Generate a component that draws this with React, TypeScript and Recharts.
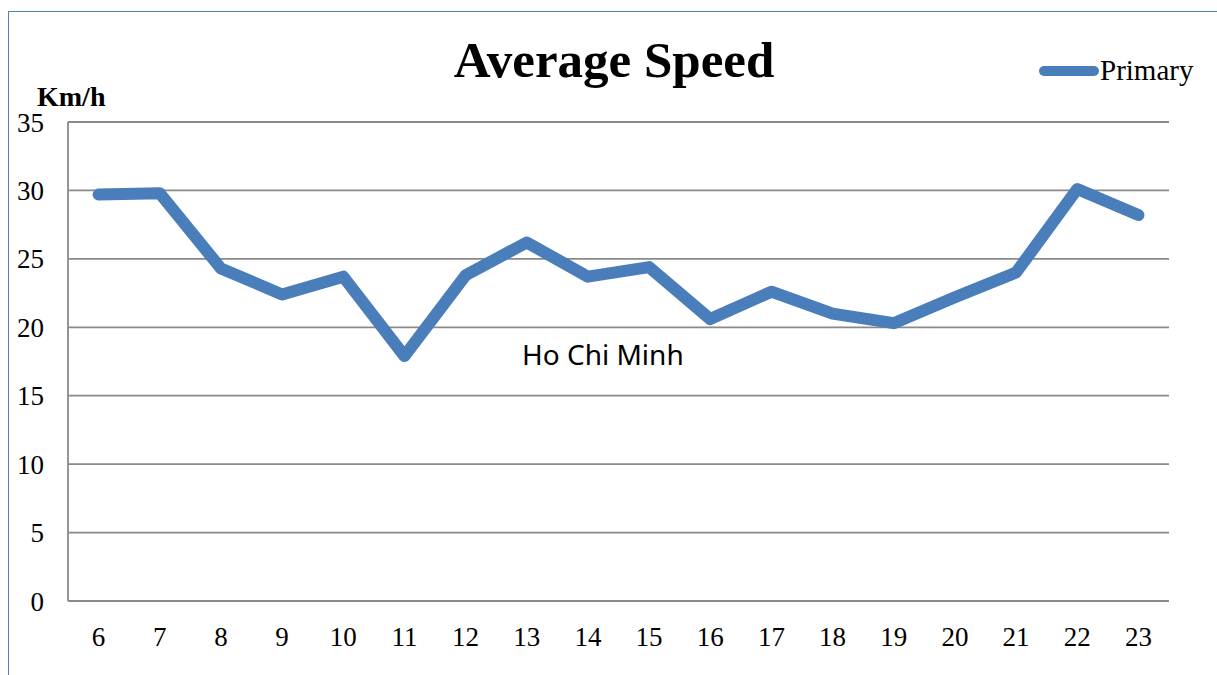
import React from "react";
import { LineChart, Line, XAxis, YAxis, CartesianGrid } from "recharts";

const HOURS = ["6", "7", "8", "9", "10", "11", "12", "13", "14", "15", "16", "17", "18", "19", "20", "21", "22", "23"];
const PRIMARY = [29.7, 29.8, 24.3, 22.4, 23.7, 17.9, 23.8, 26.2, 23.7, 24.4, 20.6, 22.6, 21.0, 20.3, 22.2, 24.0, 30.1, 28.2];
const Y_TICKS = [0, 5, 10, 15, 20, 25, 30, 35];

const BLUE = "#4a7ebb";
const GRID = "#8a8a8a";
const SERIF = "'Liberation Serif', 'Times New Roman', serif";

const data = HOURS.map((h, i) => ({ hour: h, primary: PRIMARY[i] }));

export default function App() {
  return (
    <div style={{ position: "absolute", left: 0, top: 0, width: 1217, height: 675, background: "#fff" }}>
      <div
        style={{
          position: "absolute",
          left: 8,
          top: 11,
          right: 0,
          bottom: 0,
          borderLeft: "1.5px solid #4f81bd",
          borderTop: "1.5px solid #4f81bd",
        }}
      />
      <LineChart width={1217} height={675} data={data} margin={{ top: 122, right: 48, bottom: 14, left: 8 }}>
        <CartesianGrid vertical={false} stroke={GRID} strokeWidth={1.8} />
        <XAxis
          dataKey="hour"
          height={60}
          padding={{ left: 30.6, right: 30.6 }}
          tickLine={false}
          tickSize={0}
          tickMargin={26}
          axisLine={{ stroke: GRID, strokeWidth: 1.8 }}
          tick={{ fill: "#000", fontSize: 27, fontFamily: SERIF }}
          interval={0}
        />
        <YAxis
          width={60}
          domain={[0, 35]}
          ticks={Y_TICKS}
          tickLine={false}
          tickSize={0}
          tickMargin={24}
          axisLine={{ stroke: GRID, strokeWidth: 1.8 }}
          tick={{ fill: "#000", fontSize: 27, fontFamily: SERIF }}
        />
        <Line
          dataKey="primary"
          stroke={BLUE}
          strokeWidth={12}
          strokeLinecap="round"
          strokeLinejoin="round"
          dot={false}
          activeDot={false}
          isAnimationActive={false}
        />
      </LineChart>
      <svg width={1217} height={675} style={{ position: "absolute", left: 0, top: 0, pointerEvents: "none" }}>
        <text x={614} y={77} textAnchor="middle" fontFamily={SERIF} fontWeight="bold" fontSize={51} fill="#000">
          Average Speed
        </text>
        <text x={37} y={106} fontFamily={SERIF} fontWeight="bold" fontSize={28} fill="#000">
          Km/h
        </text>
        <text x={522} y={365} fontFamily="'Noto Sans', sans-serif" fontSize={28} fill="#000">
          Ho Chi Minh
        </text>
        <line x1={1044} y1={71} x2={1094} y2={71} stroke={BLUE} strokeWidth={10} strokeLinecap="round" />
        <text x={1100} y={80} fontFamily={SERIF} fontSize={29} fill="#000">
          Primary
        </text>
      </svg>
    </div>
  );
}
